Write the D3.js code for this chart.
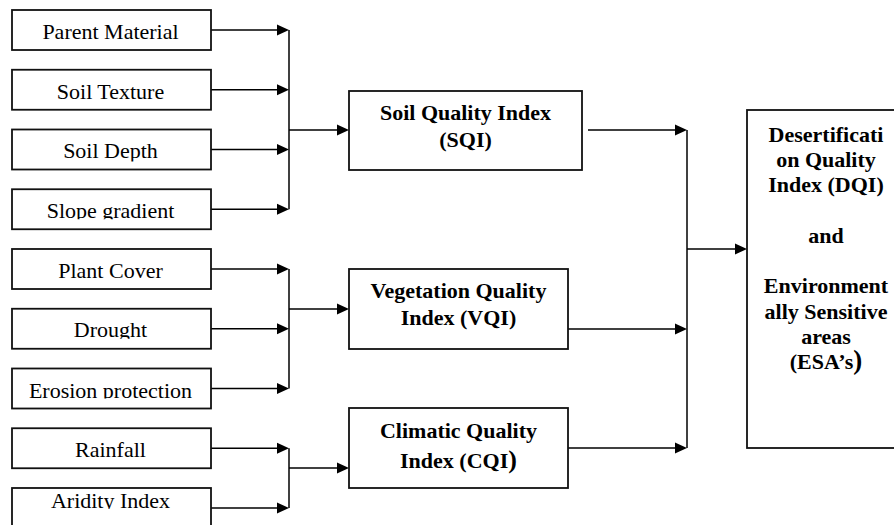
<!DOCTYPE html>
<html>
<head>
<meta charset="utf-8">
<script src="https://cdn.jsdelivr.net/npm/d3@7"></script>
<style>
  html, body { margin: 0; padding: 0; background: #fff; }
  svg { display: block; }
</style>
</head>
<body>
<svg id="chart" width="894" height="525"></svg>
<script>
// ---------- data ----------
const inputs = ["Parent Material", "Soil Texture", "Soil Depth", "Slope gradient",
                "Plant Cover", "Drought", "Erosion protection",
                "Rainfall", "Aridity Index"];
const inputGroup = [0, 0, 0, 0, 1, 1, 1, 2, 2];
const indexLabels = [["Soil Quality Index", "(SQI)"],
                     ["Vegetation Quality", "Index (VQI)"],
                     ["Climatic Quality", "Index (CQI)"]];
const finalLines = ["Desertificati", "on Quality", "Index (DQI)", "", "and", "",
                    "Environment", "ally Sensitive", "areas", "(ESA’s)"];

// ---------- layout ----------
const svg = d3.select("#chart");
const FONT = "'Liberation Serif', 'Times New Roman', serif";
const STROKE = 1.5;
const BOX_STROKE = 1.8;

const yIn = d3.scalePoint().domain(inputs).range([10, 488]);
const inBoxX0 = 12, inBoxX1 = 211, inBoxH = 40;
const labelDy = [29, 29, 28, 29, 29, 28, 29, 29, 20];
const clipDy = [31, 31, 32, 30, 31, 30, 30, 31, 21];
const busX1 = 289;

const idxX0 = 349;
const idxX1 = [582, 568, 568];
const idxY = [91, 269, 408];
const idxH = [79, 80, 80];
const idxEntryY = [130, 309, 468];
const idxExitY = [130, 329, 448];
const idxExitGap = [6, 0, 0];
const idxBaselines = [[120, 147], [298, 325], [438, 468]];
const busX2 = 687;

const finX0 = 747, finX1 = 905, finY0 = 110, finY1 = 448, finEntryY = 249;
const finLineY = d3.scaleLinear().domain([0, 1]).range([141.5, 166.8]);

function arrowHead(g, x, y) {
  g.append("path")
    .attr("d", `M${x},${y} L${x - 12},${y - 5.5} L${x - 12},${y + 5.5} Z`)
    .attr("fill", "#000");
}
function hline(g, x0, x1, y) {
  g.append("line").attr("x1", x0).attr("x2", x1).attr("y1", y).attr("y2", y)
    .attr("stroke", "#000").attr("stroke-width", STROKE);
}
function vline(g, x, y0, y1) {
  g.append("line").attr("x1", x).attr("x2", x).attr("y1", y0).attr("y2", y1)
    .attr("stroke", "#000").attr("stroke-width", STROKE);
}

const defs = svg.append("defs");
const gLines = svg.append("g");
const gBoxes = svg.append("g");

// ---------- input boxes ----------
inputs.forEach((name, i) => {
  const top = yIn(name);
  defs.append("clipPath").attr("id", "clip" + i)
    .append("rect").attr("x", inBoxX0).attr("y", top)
    .attr("width", inBoxX1 - inBoxX0).attr("height", clipDy[i]);
  gBoxes.append("rect")
    .attr("x", inBoxX0).attr("y", top)
    .attr("width", inBoxX1 - inBoxX0).attr("height", inBoxH)
    .attr("fill", "#fff").attr("stroke", "#111").attr("stroke-width", BOX_STROKE);
  gBoxes.append("text")
    .attr("clip-path", `url(#clip${i})`)
    .attr("x", (inBoxX0 + inBoxX1) / 2 - 1).attr("y", top + labelDy[i])
    .attr("text-anchor", "middle")
    .attr("font-family", FONT).attr("font-size", 22).attr("fill", "#000")
    .text(name);
  const cy = top + inBoxH / 2;
  hline(gLines, inBoxX1, busX1 - 10, cy);
  arrowHead(gLines, busX1, cy);
});

// ---------- buses to index boxes ----------
indexLabels.forEach((lab, k) => {
  const ys = inputs.filter((d, i) => inputGroup[i] === k).map(d => yIn(d) + inBoxH / 2);
  vline(gLines, busX1, d3.min(ys), d3.max(ys));
  hline(gLines, busX1, idxX0 - 10, idxEntryY[k]);
  arrowHead(gLines, idxX0, idxEntryY[k]);

  gBoxes.append("rect")
    .attr("x", idxX0).attr("y", idxY[k])
    .attr("width", idxX1[k] - idxX0).attr("height", idxH[k])
    .attr("fill", "#fff").attr("stroke", "#111").attr("stroke-width", BOX_STROKE);
  lab.forEach((line, j) => {
    const t = gBoxes.append("text")
      .attr("x", (idxX0 + idxX1[k]) / 2).attr("y", idxBaselines[k][j])
      .attr("text-anchor", "middle")
      .attr("font-family", FONT).attr("font-size", 22).attr("font-weight", "bold")
      .attr("fill", "#000");
    if (k === 2 && j === 1) {
      t.append("tspan").text(line.slice(0, -1));
      t.append("tspan").attr("font-size", 26).text(line.slice(-1));
    } else {
      t.text(line);
    }
  });

  hline(gLines, idxX1[k] + idxExitGap[k], busX2 - 10, idxExitY[k]);
  arrowHead(gLines, busX2, idxExitY[k]);
});

// ---------- final bus & box ----------
vline(gLines, busX2, d3.min(idxExitY), d3.max(idxExitY));
hline(gLines, busX2, finX0 - 10, finEntryY);
arrowHead(gLines, finX0, finEntryY);

gBoxes.append("rect")
  .attr("x", finX0).attr("y", finY0)
  .attr("width", finX1 - finX0).attr("height", finY1 - finY0)
  .attr("fill", "#fff").attr("stroke", "#111").attr("stroke-width", BOX_STROKE);
finalLines.forEach((line, j) => {
  if (!line) return;
  const t = gBoxes.append("text")
    .attr("x", (finX0 + finX1) / 2).attr("y", finLineY(j))
    .attr("text-anchor", "middle")
    .attr("font-family", FONT).attr("font-size", 22).attr("font-weight", "bold")
    .attr("fill", "#000");
  if (j === finalLines.length - 1) {
    t.append("tspan").text(line.slice(0, -1));
    t.append("tspan").attr("font-size", 27).text(line.slice(-1));
  } else {
    t.text(line);
  }
});
</script>
</body>
</html>
